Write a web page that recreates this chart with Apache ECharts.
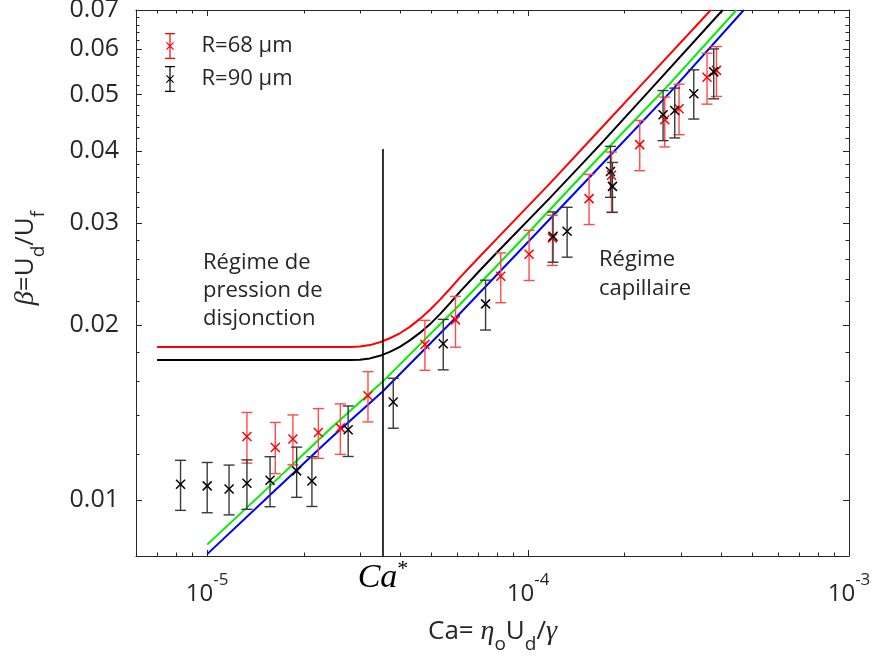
<!DOCTYPE html>
<html>
<head>
<meta charset="utf-8">
<script src="https://cdn.jsdelivr.net/npm/echarts@6/dist/echarts.min.js"></script>
<style>
html, body { margin: 0; padding: 0; background: #fff; }
#chart { width: 874px; height: 659px; }
</style>
</head>
<body>
<div id="chart"></div>
<script>
// R = 68 µm (red)
var caR68 = [1.33e-5, 1.63e-5, 1.85e-5, 2.22e-5, 2.60e-5, 3.17e-5, 4.77e-5, 5.94e-5, 8.22e-5, 1.007e-4, 1.191e-4, 1.549e-4, 1.819e-4, 2.228e-4, 2.666e-4, 2.954e-4, 3.611e-4, 3.863e-4];
var betaR68 = [0.01286, 0.01231, 0.01273, 0.01307, 0.01331, 0.01512, 0.01854, 0.02044, 0.02431, 0.02653, 0.02831, 0.03309, 0.03631, 0.04100, 0.04527, 0.04728, 0.05357, 0.05507];
var hiR68 = [0.01415, 0.01360, 0.01401, 0.01437, 0.01464, 0.01664, 0.02040, 0.02244, 0.02667, 0.02917, 0.03097, 0.03643, 0.03982, 0.04514, 0.04953, 0.05214, 0.05896, 0.06053];
var loR68 = [0.01157, 0.01110, 0.01149, 0.01179, 0.01198, 0.01363, 0.01673, 0.01834, 0.02188, 0.02390, 0.02537, 0.02985, 0.03133, 0.03697, 0.04063, 0.04265, 0.04816, 0.04965];

// R = 90 µm (black)
var caR90 = [8.26e-6, 1.00e-5, 1.17e-5, 1.33e-5, 1.57e-5, 1.90e-5, 2.12e-5, 2.75e-5, 3.80e-5, 5.44e-5, 7.37e-5, 1.196e-4, 1.323e-4, 1.806e-4, 1.832e-4, 2.634e-4, 2.864e-4, 3.283e-4, 3.788e-4];
var betaR90 = [0.01064, 0.01057, 0.01044, 0.01068, 0.01081, 0.01122, 0.01078, 0.01321, 0.01475, 0.01859, 0.02178, 0.02849, 0.02906, 0.03686, 0.03474, 0.04617, 0.04696, 0.05018, 0.05474];
var hiR90 = [0.01170, 0.01160, 0.01148, 0.01172, 0.01187, 0.01233, 0.01187, 0.01452, 0.01621, 0.02048, 0.02393, 0.03139, 0.03197, 0.04072, 0.03820, 0.05083, 0.05132, 0.05519, 0.05997];
var loR90 = [0.00959, 0.00950, 0.00942, 0.00963, 0.00973, 0.01010, 0.00974, 0.01188, 0.01329, 0.01676, 0.01963, 0.02570, 0.02622, 0.03326, 0.03133, 0.04166, 0.04211, 0.04539, 0.04919];

// model curves
var redCa = [6.98e-6, 2.783e-5, 2.990e-5, 3.213e-5, 3.451e-5, 3.708e-5, 3.984e-5, 4.280e-5, 4.598e-5, 4.940e-5, 5.306e-5, 5.702e-5, 6.128e-5, 7.071e-5, 8.161e-5, 1.168e-4, 1.672e-4, 2.393e-4, 3.71e-4];
var redBeta = [0.01836, 0.01836, 0.01838, 0.01849, 0.01870, 0.01900, 0.01938, 0.01988, 0.02052, 0.02126, 0.02213, 0.02311, 0.02418, 0.02629, 0.02857, 0.03512, 0.04350, 0.05388, 0.07];
var blackCa = [6.98e-6, 2.783e-5, 2.990e-5, 3.213e-5, 3.451e-5, 3.708e-5, 3.984e-5, 4.280e-5, 4.598e-5, 4.940e-5, 5.306e-5, 5.702e-5, 6.128e-5, 7.071e-5, 8.161e-5, 1.168e-4, 1.672e-4, 2.393e-4, 4.04e-4];
var blackBeta = [0.01742, 0.01742, 0.01744, 0.01754, 0.01772, 0.01800, 0.01836, 0.01884, 0.01941, 0.02008, 0.02089, 0.02182, 0.02284, 0.02487, 0.02703, 0.03316, 0.04092, 0.05087, 0.07];
var greenCa = [1e-5, 1.57e-5, 2.41e-5, 3.53e-5, 6.13e-5, 1.01e-4, 1.67e-4, 2.76e-4, 4.46e-4];
var greenBeta = [0.00837, 0.01057, 0.01324, 0.01601, 0.02173, 0.02903, 0.03908, 0.05220, 0.07];
var blueCa = [1e-5, 1.57e-5, 2.41e-5, 3.53e-5, 6.13e-5, 1.01e-4, 1.67e-4, 2.76e-4, 4.70e-4];
var blueBeta = [0.00806, 0.01019, 0.01273, 0.01539, 0.02097, 0.02801, 0.03756, 0.05037, 0.07];

// Ca* marker line
var caStar = 3.53e-5;
var starBeta = [0.0403, 0.008];

// ticks
var xMajor = [1e-5, 1e-4, 1e-3];
var yMajor = [0.01, 0.02, 0.03, 0.04, 0.05, 0.06, 0.07];

var xMinor = [];
[1e-6, 1e-5, 1e-4].forEach(function (d) {
    for (var k = 2; k <= 9; k++) xMinor.push(k * d);
});
var yMinor = [];
for (var t = 8; t <= 70; t += 2) {
    if (t % 10 !== 0) yMinor.push(t / 1000);
}

var axisColor = '#262626';
var font = 'Open Sans';

function zip(a, b) {
    return a.map(function (v, i) { return [v, b[i]]; });
}
function rows(ca, beta, lo, hi) {
    return ca.map(function (v, i) { return [v, beta[i], lo[i], hi[i]]; });
}

function errorBars(barColor, markColor) {
    return function (params, api) {
        var x = api.value(0);
        var c = api.coord([x, api.value(1)]);
        var lo = api.coord([x, api.value(2)]);
        var hi = api.coord([x, api.value(3)]);
        var cw = 5.5, m = 4.5;
        var bar = { stroke: barColor, lineWidth: 1.4 };
        var mk = { stroke: markColor, lineWidth: 1.5 };
        return {
            type: 'group',
            children: [
                { type: 'line', shape: { x1: c[0], y1: hi[1], x2: c[0], y2: lo[1] }, style: bar },
                { type: 'line', shape: { x1: c[0] - cw, y1: hi[1], x2: c[0] + cw, y2: hi[1] }, style: bar },
                { type: 'line', shape: { x1: c[0] - cw, y1: lo[1], x2: c[0] + cw, y2: lo[1] }, style: bar },
                { type: 'line', shape: { x1: c[0] - m, y1: c[1] - m, x2: c[0] + m, y2: c[1] + m }, style: mk },
                { type: 'line', shape: { x1: c[0] - m, y1: c[1] + m, x2: c[0] + m, y2: c[1] - m }, style: mk }
            ]
        };
    };
}

function modelLine(name, data, color) {
    return {
        name: name, type: 'line', data: data, showSymbol: false, silent: true,
        lineStyle: { color: color, width: 2, join: 'round' }, itemStyle: { color: color }, z: 2
    };
}

function logAxis(pos, min, max, values, len, line) {
    return {
        type: 'log', logBase: 10, position: pos, min: min, max: max,
        axisLine: { show: line, onZero: false, lineStyle: { color: axisColor, width: 1 } },
        axisTick: { show: true, inside: true, length: len, customValues: values,
                    lineStyle: { color: axisColor, width: 1 } },
        axisLabel: { show: false },
        splitLine: { show: false },
        minorTick: { show: false },
        minorSplitLine: { show: false }
    };
}

var legendIcon = 'path://M5.4 0H6.6V26H5.4Z M1 0H11V1.3H1Z M1 24.7H11V26H1Z M2 9.8L2.8 9L10 16.2L9.2 17Z M9.2 9L10 9.8L2.8 17L2 16.2Z';

var nameRich = {
    i: { fontFamily: 'Liberation Serif', fontStyle: 'italic', fontSize: 28, color: axisColor },
    sub: { fontFamily: font, fontSize: 19, color: axisColor, verticalAlign: 'bottom', lineHeight: 20 }
};

var chart = echarts.init(document.getElementById('chart'));

var xBottom = logAxis('bottom', 6e-6, 1e-3, xMajor, 6, true);
xBottom.axisLabel = {
    show: true, customValues: xMajor, margin: 16,
    color: axisColor, fontFamily: font, fontSize: 24, lineHeight: 44,
    formatter: function (v) {
        return '10{sup|' + Math.round(Math.log10(v)) + '}';
    },
    rich: {
        sup: { fontFamily: font, fontSize: 17, color: axisColor, verticalAlign: 'top', lineHeight: 17 }
    }
};
xBottom.name = 'Ca= {i|η}{sub|o}U{sub|d}/{i|γ}';
xBottom.nameLocation = 'middle';
xBottom.nameGap = 54;
xBottom.nameMoveOverlap = false;
xBottom.nameTextStyle = {
    fontFamily: font, fontSize: 26, color: axisColor, lineHeight: 44, rich: nameRich
};

var yLeft = logAxis('left', 0.008, 0.07, yMajor, 6, true);
yLeft.axisLabel = {
    show: true, customValues: yMajor, margin: 17,
    color: axisColor, fontFamily: font, fontSize: 25,
    formatter: function (v) { return v.toFixed(2); }
};

var option = {
    animation: false,
    backgroundColor: '#fff',
    grid: { left: 136, right: 25, top: 10, bottom: 103, containLabel: false, outerBoundsMode: 'none' },
    legend: {
        orient: 'vertical', left: 160, top: 28, itemGap: 7,
        itemWidth: 11, itemHeight: 26, selectedMode: false,
        data: [
            { name: 'R=68 µm', icon: legendIcon },
            { name: 'R=90 µm', icon: legendIcon }
        ],
        textStyle: { fontFamily: font, fontSize: 22, color: axisColor, padding: [0, 0, 0, 21] }
    },
    xAxis: [
        xBottom,
        logAxis('bottom', 6e-6, 1e-3, xMinor, 3.5, false),
        logAxis('top', 6e-6, 1e-3, xMajor, 6, true),
        logAxis('top', 6e-6, 1e-3, xMinor, 3.5, false)
    ],
    yAxis: [
        yLeft,
        logAxis('left', 0.008, 0.07, yMinor, 3.5, false),
        logAxis('right', 0.008, 0.07, yMajor, 6, true),
        logAxis('right', 0.008, 0.07, yMinor, 3.5, false)
    ],
    series: [
        modelLine('red model', zip(redCa, redBeta), '#ff0000'),
        modelLine('black model', zip(blackCa, blackBeta), '#000000'),
        modelLine('green model', zip(greenCa, greenBeta), '#00f000'),
        modelLine('blue model', zip(blueCa, blueBeta), '#0000ff'),
        {
            name: 'Ca*', type: 'line', silent: true, showSymbol: false, z: 2,
            data: [[caStar, starBeta[0]], [caStar, starBeta[1]]],
            lineStyle: { color: '#000', width: 1.6 }
        },
        {
            name: 'R=68 µm', type: 'custom', z: 3,
            itemStyle: { color: '#ff0000' },
            renderItem: errorBars('#ff4a4a', '#ff0000'),
            encode: { x: 0, y: 1 },
            data: rows(caR68, betaR68, loR68, hiR68)
        },
        {
            name: 'R=90 µm', type: 'custom', z: 3,
            itemStyle: { color: '#000000' },
            renderItem: errorBars('#3a3a3a', '#000000'),
            encode: { x: 0, y: 1 },
            data: rows(caR90, betaR90, loR90, hiR90)
        }
    ]
};
chart.setOption(option);

var starX = chart.convertToPixel({ xAxisIndex: 0 }, caStar);
chart.setOption({
    graphic: [
        {
            type: 'text', x: 26, y: 258, rotation: Math.PI / 2, silent: true,
            style: {
                text: '{i|β}=U{sub|d}/U{sub|f}', align: 'center', verticalAlign: 'middle',
                fontFamily: font, fontSize: 26, lineHeight: 44, fill: axisColor,
                rich: {
                    i: { fontFamily: 'Liberation Serif', fontStyle: 'italic', fontSize: 28, fill: axisColor },
                    sub: { fontFamily: font, fontSize: 19, fill: axisColor, verticalAlign: 'bottom', lineHeight: 20 }
                }
            }
        },
        {
            type: 'text', left: 203, top: 249, silent: true,
            style: {
                text: 'Régime de\npression de\ndisjonction',
                fontFamily: font, fontSize: 22, lineHeight: 28, fill: axisColor
            }
        },
        {
            type: 'text', left: 599, top: 245, silent: true,
            style: {
                text: 'Régime\ncapillaire',
                fontFamily: font, fontSize: 22, lineHeight: 29, fill: axisColor
            }
        },
        {
            type: 'text', x: starX, y: 578, silent: true,
            style: {
                text: '{c|Ca}{s|*}', align: 'center', verticalAlign: 'middle',
                rich: {
                    c: { fontFamily: 'Liberation Serif', fontStyle: 'italic', fontSize: 34, fill: '#000', lineHeight: 40 },
                    s: { fontFamily: 'Liberation Serif', fontSize: 22, fill: '#000', verticalAlign: 'top', lineHeight: 22 }
                }
            }
        }
    ]
});
</script>
</body>
</html>
